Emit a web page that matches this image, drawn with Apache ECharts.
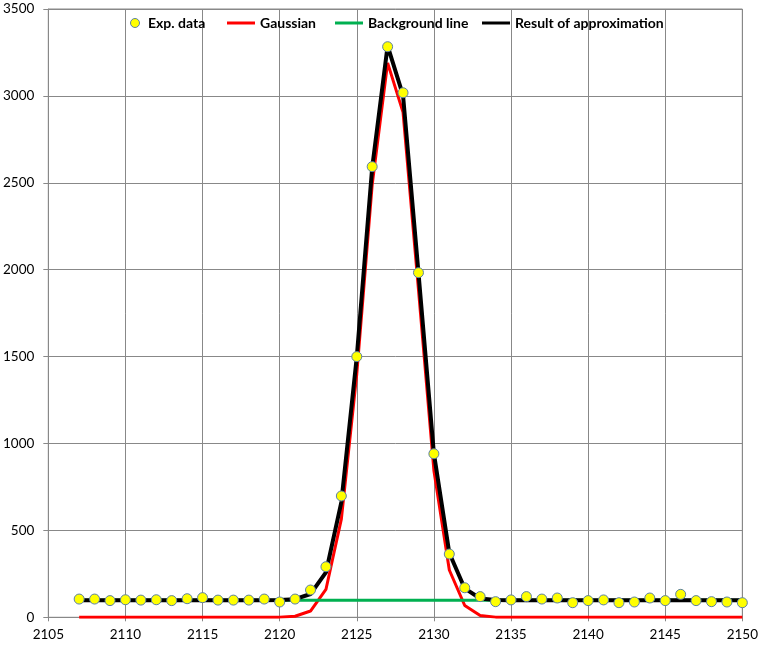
<!DOCTYPE html>
<html>
<head>
<meta charset="utf-8">
<script src="https://cdn.jsdelivr.net/npm/echarts@6/dist/echarts.min.js"></script>
<style>html,body{margin:0;padding:0;background:#fff;}#c{width:761px;height:645px;}</style>
</head>
<body>
<div id="c"></div>
<script>
const channels = [2107,2108,2109,2110,2111,2112,2113,2114,2115,2116,2117,2118,2119,2120,2121,2122,2123,2124,2125,2126,2127,2128,2129,2130,2131,2132,2133,2134,2135,2136,2137,2138,2139,2140,2141,2142,2143,2144,2145,2146,2147,2148,2149,2150];
const expData = [105,105,96,101,99,101,96,107,113,99,99,99,105,88,105,157,291,698,1500,2593,3283,3018,1983,941,364,170,119,90,100,119,105,111,84,96,100,84,88,111,96,132,96,90,88,84];
const gaussian = [0,0,0,0,0,0,0,0,0,0,0,0,0,1,6,36,160,565,1400,2490,3190,2905,1885,845,272,68,10,1,0,0,0,0,0,0,0,0,0,0,0,0,0,0,0,0];
const background = [98,98,98,98,98,98,98,98,98,98,98,98,98,98,98,98,98,98,98,98,98,98,98,98,98,98,98,98,98,98,98,98,98,98,98,98,98,98,98,98,98,98,98,98];
const approximation = [98,98,98,98,98,98,98,98,98,98,98,98,98,99,104,134,258,663,1498,2588,3288,3003,1983,943,370,166,108,99,98,98,98,98,98,98,98,98,98,98,98,98,98,98,98,98];
const xTicks = {min: 2105, max: 2150, step: 5};
const yTicks = {min: 0, max: 3500, step: 500};

const pair = (ys) => channels.map((x, i) => [x, ys[i]]);
const FONT = 'Lato';
const chart = echarts.init(document.getElementById('c'), null, {renderer: 'canvas'});
const legendText = {fontFamily: FONT, fontWeight: 'bold', fontSize: 14, color: '#000'};
chart.setOption({
  animation: false,
  backgroundColor: '#fff',
  grid: {left: 47, right: 18.5, top: 9, bottom: 27.7, show: true, borderColor: '#888', borderWidth: 1},
  legend: [
    {data: [{name: 'Exp. data', icon: 'circle'}], left: 125, top: 11, padding: 5, itemWidth: 16, itemHeight: 9, textStyle: legendText, itemStyle: {color: '#FFFF00', borderColor: '#5A7FA8', borderWidth: 1}},
    {data: [{name: 'Gaussian', icon: 'rect'}], left: 222, top: 11, padding: 5, itemWidth: 28, itemHeight: 3, textStyle: legendText},
    {data: [{name: 'Background line', icon: 'rect'}], left: 330, top: 11, padding: 5, itemWidth: 28, itemHeight: 3, textStyle: legendText},
    {data: [{name: 'Result of approximation', icon: 'rect'}], left: 477, top: 11, padding: 5, itemWidth: 28, itemHeight: 3, textStyle: legendText}
  ],
  xAxis: {
    type: 'value', min: xTicks.min, max: xTicks.max, interval: xTicks.step,
    axisLine: {show: true, lineStyle: {color: '#888', width: 1}},
    axisTick: {show: true, length: 4, lineStyle: {color: '#888'}},
    axisLabel: {color: '#000', fontFamily: FONT, fontSize: 13.5, margin: 10, formatter: v => String(v)},
    splitLine: {show: true, lineStyle: {color: '#888', width: 1}}
  },
  yAxis: {
    type: 'value', min: yTicks.min, max: yTicks.max, interval: yTicks.step,
    axisLine: {show: true, lineStyle: {color: '#888', width: 1}},
    axisTick: {show: true, length: 5, lineStyle: {color: '#888'}},
    axisLabel: {color: '#000', fontFamily: FONT, fontSize: 13.5, margin: 14, formatter: v => String(v)},
    splitLine: {show: true, lineStyle: {color: '#888', width: 1}}
  },
  series: [
    {name: 'Gaussian', type: 'line', data: pair(gaussian), symbol: 'none', lineStyle: {color: '#FF0000', width: 3}, itemStyle: {color: '#FF0000'}, z: 2},
    {name: 'Background line', type: 'line', data: pair(background), symbol: 'none', lineStyle: {color: '#00B050', width: 3}, itemStyle: {color: '#00B050'}, z: 3},
    {name: 'Result of approximation', type: 'line', data: pair(approximation), symbol: 'none', lineStyle: {color: '#000', width: 4}, itemStyle: {color: '#000'}, z: 4},
    {name: 'Exp. data', type: 'scatter', data: pair(expData), symbol: 'circle', symbolSize: 10, itemStyle: {color: '#FFFF00', borderColor: '#5A7FA8', borderWidth: 1, opacity: 1}, z: 5}
  ]
});
</script>
</body>
</html>
